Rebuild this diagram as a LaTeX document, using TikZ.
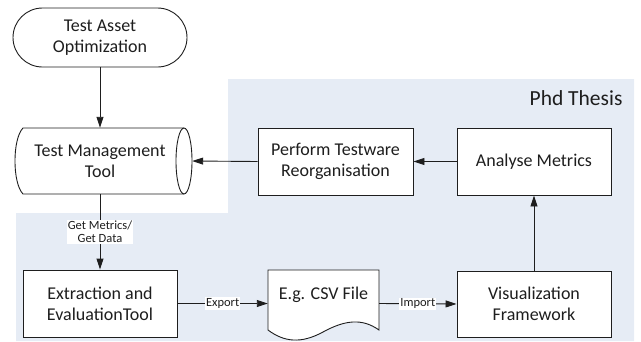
\documentclass[tikz,border=0pt]{standalone}
\usepackage{fontspec}
\setmainfont{Carlito}
\usetikzlibrary{arrows.meta,shapes.misc}
\definecolor{bgblue}{RGB}{230,236,245}
\definecolor{ink}{RGB}{30,30,30}
\tikzset{
  every node/.style={text=ink},
  boxtext/.style={font=\fontsize{18}{21}\selectfont, align=center},
  procbox/.style={boxtext, draw=ink, fill=white, line width=0.9pt, minimum width=154pt, minimum height=67pt, inner sep=0pt},
  flow/.style={draw=ink, line width=0.9pt, -{Triangle[length=11pt,width=7pt]}},
  edgelabel/.style={font=\fontsize{12.5}{13.5}\selectfont, fill=white, inner sep=1pt, align=center},
  shapeline/.style={draw=ink, line width=0.9pt, fill=white},
}
\begin{document}
\begin{tikzpicture}[x=1pt,y=-1pt]
\useasboundingbox (0,0) rectangle (641,341);
% Phd thesis region
\fill[bgblue] (16,213) -- (228,213) -- (228,79) -- (634,79) -- (634,341) -- (16,341) -- cycle;
\node[anchor=base east, font=\fontsize{21.5}{23}\selectfont] (phd) at (626,105) {Phd Thesis};

% Test Asset Optimization
\node[rounded rectangle, boxtext, draw=ink, fill=white, line width=0.9pt, minimum width=174pt, minimum height=59pt, inner sep=0pt] (tao) at (100,37.5) {Test Asset\\Optimization};

% Test Management Tool (stored data shape)
\path[shapeline] (23,128) -- (184,128) arc[start angle=90, end angle=-90, x radius=8, y radius=-33] -- (23,194) .. controls (12.3,183) and (12.3,139) .. cycle;
\draw[ink, line width=0.9pt] (184,128) arc[start angle=90, end angle=270, x radius=8, y radius=-33];
\node[boxtext, minimum width=184pt, minimum height=66pt, inner sep=0pt] (tmt) at (100,161) {Test Management\\Tool};

% Process boxes
\node[procbox, minimum width=155pt] (ptr) at (335.5,161.5) {Perform Testware\\Reorganisation};
\node[procbox] (am) at (534,161.5) {Analyse Metrics};
\node[procbox] (eet) at (100,303.5) {Extraction and\\EvaluationTool};
\node[procbox, minimum height=66pt] (vf) at (534,304) {Visualization\\Framework};

% Document shape
\path[shapeline] (268,270) -- (379,270) -- (379,330) .. controls (362,318) and (345,320) .. (323,332) .. controls (301,344) and (284,342) .. (268,330) -- cycle;
\node[boxtext, minimum width=111pt, minimum height=50pt, inner sep=0pt] (csv) at (323.5,295) {E.g. CSV File};

% Connectors
\draw[flow] (tao.south) -- (tmt.north);
\draw[flow] (ptr.west) -- (tmt.east);
\draw[flow] (am.west) -- (ptr.east);
\draw[flow] (vf.north) -- (am.south);
\draw[flow] (tmt.south) -- node[edgelabel] {Get Metrics/\\Get Data} (eet.north);
\draw[flow] (eet.east) -- node[edgelabel] {Export} (eet.east -| csv.west);
\draw[flow] (eet.east -| csv.east) -- node[edgelabel] {Import} (vf.west);
\end{tikzpicture}
\end{document}
